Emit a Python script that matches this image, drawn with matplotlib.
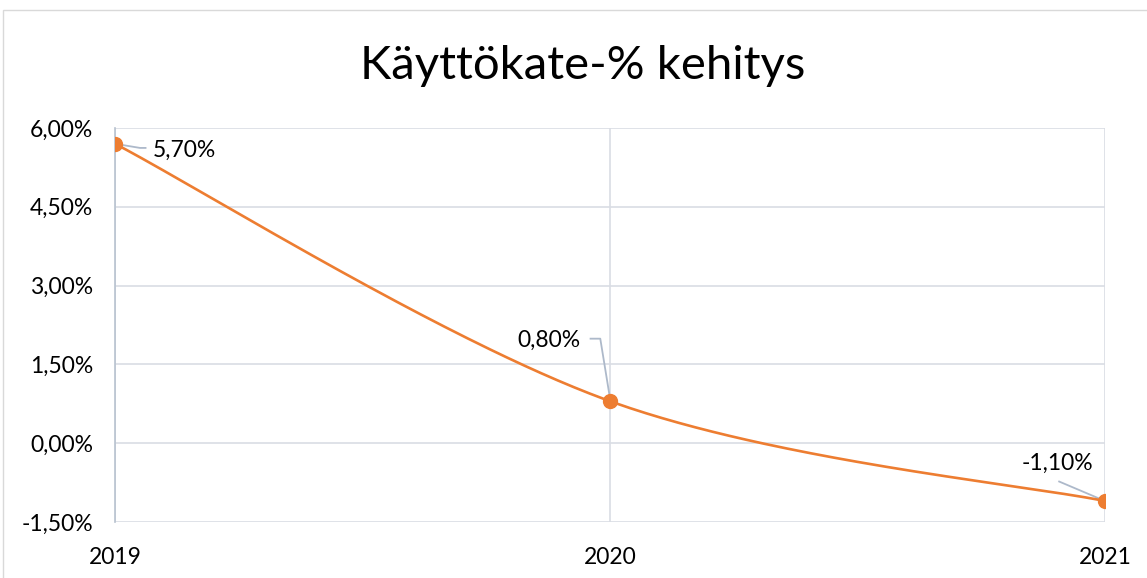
import numpy as np
import matplotlib
matplotlib.use("Agg")
import matplotlib.pyplot as plt
from matplotlib.ticker import FuncFormatter, FixedLocator
from matplotlib.patches import Rectangle

plt.rcParams['font.family'] = ['Lato', 'DejaVu Sans']

years = [2019, 2020, 2021]
values = [5.70, 0.80, -1.10]
labels = ['5,70%', '0,80%', '-1,10%']
yticks = [-1.5, 0.0, 1.5, 3.0, 4.5, 6.0]

orange = '#ED7D31'
grid_c = '#d9dde4'
lead_c = '#adb9ca'

fig = plt.figure(figsize=(11.47, 5.78), dpi=100)
# chart area border
fig.patches.append(Rectangle((3 / 1147, -0.1), 1.2, 1 - 10 / 578 + 0.1, transform=fig.transFigure,
                             fill=False, edgecolor='#d9d9d9', linewidth=1))
ax = fig.add_axes([115 / 1147, 1 - 522 / 578, (1105 - 115) / 1147, (522 - 128) / 578])

# smoothed line (bezier, excel-like)
x = np.array(years, dtype=float)
y = np.array(values, dtype=float)
px = np.concatenate([[x[0]], x, [x[-1]]])
py = np.concatenate([[y[0]], y, [y[-1]]])
sx, sy = [], []
t = np.linspace(0, 1, 100)
for i in range(1, len(px) - 2):
    p0 = np.array([px[i], py[i]])
    p3 = np.array([px[i + 1], py[i + 1]])
    c1 = p0 + (np.array([px[i + 1], py[i + 1]]) - np.array([px[i - 1], py[i - 1]])) / 6
    c2 = p3 - (np.array([px[i + 2], py[i + 2]]) - np.array([px[i], py[i]])) / 6
    b = ((1 - t) ** 3)[:, None] * p0 + (3 * (1 - t) ** 2 * t)[:, None] * c1 \
        + (3 * (1 - t) * t ** 2)[:, None] * c2 + (t ** 3)[:, None] * p3
    sx.extend(b[:, 0])
    sy.extend(b[:, 1])
ax.plot(sx, sy, color=orange, linewidth=1.9, zorder=3)
ax.plot(years, values, 'o', color=orange, markersize=10, zorder=4)

ax.set_xlim(2019, 2021)
ax.set_ylim(-1.5, 6.0)
ax.xaxis.set_major_locator(FixedLocator(years))
ax.yaxis.set_major_locator(FixedLocator(yticks))
ax.xaxis.set_major_formatter(FuncFormatter(lambda v, p: str(int(round(v)))))
ax.yaxis.set_major_formatter(FuncFormatter(lambda v, p: ('%.2f%%' % v).replace('.', ',')))
ax.grid(True, color=grid_c, linewidth=1.2)
ax.set_axisbelow(True)
for s in ['top', 'right', 'bottom']:
    ax.spines[s].set_visible(False)
ax.spines['left'].set_color('#b8c2cf')
ax.spines['left'].set_linewidth(1.2)
ax.tick_params(length=0, labelsize=16.5, colors='#000000')
ax.tick_params(axis='y', pad=15.5)
ax.tick_params(axis='x', pad=18)

# data labels (offsets in points from the point)
offs = [(27, -5), (-21, 44), (-34, 27)]
has = ['left', 'right', 'center']
for xi, yi, lab, (dx, dy), ha in zip(years, values, labels, offs, has):
    ax.annotate(lab, (xi, yi), xytext=(dx, dy), textcoords='offset points',
                ha=ha, va='center', fontsize=16.5, zorder=5)

# leader lines, drawn in offset points from each point
def leader(xi, yi, offsets):
    base = ax.transData.transform((xi, yi))
    pix = [(base[0] + ox / 0.72, base[1] + oy / 0.72) for ox, oy in offsets]
    d = ax.transData.inverted().transform(pix)
    ax.plot(d[:, 0], d[:, 1], color=lead_c, linewidth=1.3, zorder=2)

leader(years[0], values[0], [(0, 0), (18, -3), (22, -3)])
leader(years[1], values[1], [(0, 2), (-7, 45), (-14, 45)])
leader(years[2], values[2], [(0, 0), (-33, 14)])

fig.text(583 / 1147, 1 - 66 / 578, 'Käyttökate-% kehitys', ha='center', va='center', fontsize=34)

fig.savefig('out.png', dpi=100)
